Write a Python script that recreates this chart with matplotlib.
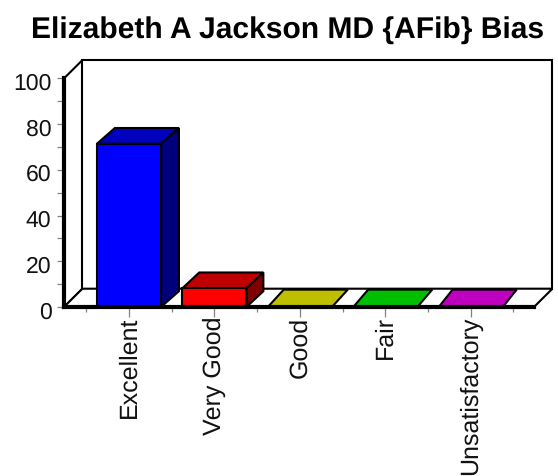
#!/usr/bin/env python3
# -*- coding: utf-8 -*-
import matplotlib
matplotlib.use("Agg")
import matplotlib.pyplot as plt
from matplotlib.patches import Polygon
from matplotlib.transforms import ScaledTranslation

plt.rcParams["font.family"] = ["Liberation Sans", "DejaVu Sans"]
plt.rcParams["text.hinting"] = "none"
plt.rcParams["text.hinting_factor"] = 1

TITLE = "Elizabeth A Jackson MD {AFib} Bias"
categories = ["Excellent", "Very Good", "Good", "Fair", "Unsatisfactory"]
values = [71.4, 8.2, 0, 0, 0]
y_ticks = [0, 20, 40, 60, 80, 100]
y_minor = [10, 30, 50, 70, 90]

front_colors = ["#0000ff", "#ff0000", "#ffff00", "#00ff00", "#ff00ff"]
top_colors = ["#0000bf", "#bf0000", "#bfbf00", "#00bf00", "#bf00bf"]
side_colors = ["#00007f", "#7f0000", "#7f7f00", "#007f00", "#7f007f"]

W, H = 558, 477
fig = plt.figure(figsize=(W / 100, H / 100), dpi=100)
ax = fig.add_axes([64 / W, (H - 308) / H, 470 / W, 228.6 / H])
ax.set_xlim(-0.76, 4.74)
ax.set_ylim(0, 100)

LINE = 1.5
WALL_DX = 0.215
WALL_DY = 8.0
BAR_W = 0.375


def poly(points, color, z=3):
    ax.add_patch(Polygon(points, closed=True, facecolor=color, edgecolor="black",
                         linewidth=LINE, joinstyle="miter", clip_on=False, zorder=z))


# walls and floor of the box
x0, x1 = ax.get_xlim()
poly([(x0, 0), (x0 + WALL_DX, WALL_DY), (x0 + WALL_DX, 100 + WALL_DY), (x0, 100)], "white", 1)
poly([(x0 + WALL_DX, WALL_DY), (x1 + WALL_DX, WALL_DY), (x1 + WALL_DX, 100 + WALL_DY),
      (x0 + WALL_DX, 100 + WALL_DY)], "white", 1)
poly([(x0, 0), (x1, 0), (x1 + WALL_DX, WALL_DY), (x0 + WALL_DX, WALL_DY)], "white", 1)

# bars, depth gets a bit smaller to the right like in the original
for i, v in enumerate(values):
    dx = 0.21 - 0.012 * i
    dy = 6.9 if v > 0 else 7.6
    left, right = i - BAR_W, i + BAR_W
    poly([(left, v), (right, v), (right + dx, v + dy), (left + dx, v + dy)], top_colors[i], 3)
    if v > 0:
        poly([(right, 0), (right + dx, dy), (right + dx, v + dy), (right, v)], side_colors[i], 3)
        poly([(left, 0), (right, 0), (right, v), (left, v)], front_colors[i], 4)

for s in ["top", "right"]:
    ax.spines[s].set_visible(False)
for s in ["left", "bottom"]:
    ax.spines[s].set_linewidth(3.0)
    ax.spines[s].set_zorder(6)

ax.set_xticks(range(len(categories)))
ax.set_xticklabels(categories, rotation=90, fontsize=18.2, color="#111111")
ax.set_xticks([i - 0.5 for i in range(len(categories) + 1)], minor=True)
ax.set_yticks(y_ticks)
ax.set_yticks(y_minor, minor=True)
ax.tick_params(axis="y", which="both", length=5, width=0.9, color="#808080",
               labelsize=16.5, pad=4, labelcolor="#111111")
ax.tick_params(axis="x", which="major", length=7, width=0.9, color="#808080", pad=-1)
ax.tick_params(axis="x", which="minor", length=3.5, width=0.9, color="#808080")

# y labels sit slightly below their ticks
for lab in ax.get_yticklabels():
    lab.set_transform(lab.get_transform() + ScaledTranslation(0, -2 / 100, fig.dpi_scale_trans))

fig.text(288 / W, 1 - 30 / H, TITLE, fontsize=21.3, fontweight="bold",
         ha="center", va="center", color="black")

fig.savefig("out.png", dpi=100)
